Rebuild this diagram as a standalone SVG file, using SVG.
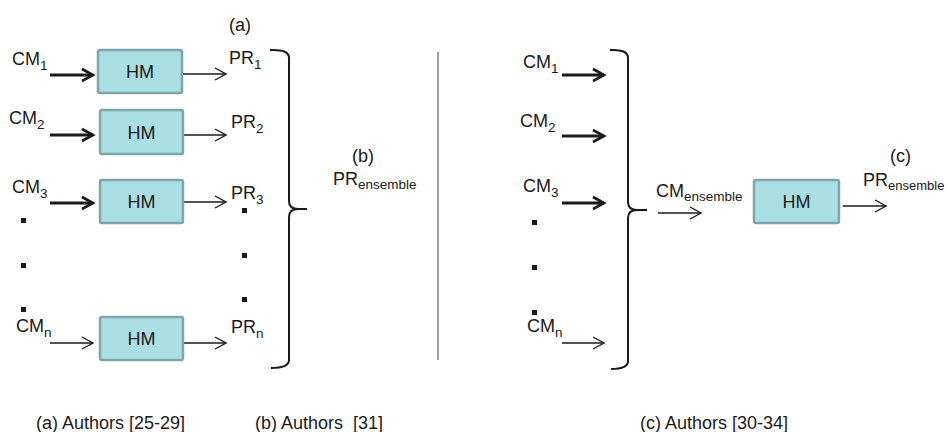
<svg xmlns="http://www.w3.org/2000/svg" width="947" height="432" viewBox="0 0 947 432">
<style>
text{font-family:"Liberation Sans",Arial,sans-serif;fill:#1a1a1a}
.lbl{font-size:18px}
.sub{font-size:13.5px}
.sub2{font-size:13px}
.cap{font-size:18px}
.box{fill:#a9dee2;stroke:#7fa5a7;stroke-width:2.5}
.thick{stroke:#1a1a1a;stroke-width:2.8;fill:none;marker-end:url(#ahk)}
.thin{stroke:#1a1a1a;stroke-width:1.3;fill:none;marker-end:url(#ahn)}
.brace{stroke:#1a1a1a;stroke-width:2;fill:none}
.dot{fill:#1a1a1a}
</style>
<defs>
<marker id="ahk" markerUnits="userSpaceOnUse" markerWidth="16" markerHeight="16" viewBox="0 0 16 16" refX="13" refY="8" orient="auto" overflow="visible">
<path d="M2,2 L13,8 L2,14" fill="none" stroke="#1a1a1a" stroke-width="2.6"/>
</marker>
<marker id="ahn" markerUnits="userSpaceOnUse" markerWidth="16" markerHeight="16" viewBox="0 0 16 16" refX="13" refY="8" orient="auto" overflow="visible">
<path d="M2,2 L13,8 L2,14" fill="none" stroke="#1a1a1a" stroke-width="1.4"/>
</marker>
</defs>
<rect width="947" height="432" fill="#ffffff"/>

<g id="connectors">
<line class="thick" x1="50" y1="75" x2="93" y2="75"/>
<line class="thick" x1="50" y1="135" x2="93" y2="135"/>
<line class="thick" x1="50" y1="203" x2="93" y2="203"/>
<line class="thin" x1="50" y1="343" x2="93" y2="343"/>
<line class="thin" x1="183" y1="74" x2="226" y2="74"/>
<line class="thin" x1="184" y1="135" x2="226" y2="135"/>
<line class="thin" x1="184" y1="202" x2="226" y2="202"/>
<line class="thin" x1="184" y1="343" x2="226" y2="343"/>
<line class="thick" x1="562" y1="75" x2="604" y2="75"/>
<line class="thick" x1="562" y1="136" x2="604" y2="136"/>
<line class="thick" x1="562" y1="203" x2="604" y2="203"/>
<line class="thin" x1="562" y1="343" x2="604" y2="343"/>
<line class="thin" x1="658" y1="213" x2="701" y2="213"/>
<line class="thin" x1="843" y1="206" x2="886" y2="206"/>
<path class="brace" d="M270,50 Q289,49 289,58 L289,201 Q289,209 298,209 L307,209 M298,209 Q289,209 289,217 L289,360 Q289,368 271,368"/>
<path class="brace" d="M610,50 Q628,49 628,58 L628,202 Q628,210 637,210 L647,210 M637,210 Q628,210 628,218 L628,361 Q628,369 611,369"/>
<line x1="438" y1="52" x2="438" y2="360" stroke="#808080" stroke-width="1.5"/>
</g>

<g id="hm1"><rect class="box" x="98" y="50" width="84" height="43" rx="2"/><text class="lbl" x="140" y="78" text-anchor="middle">HM</text></g>
<g id="hm2"><rect class="box" x="100" y="110" width="83" height="44" rx="2"/><text class="lbl" x="141.5" y="139" text-anchor="middle">HM</text></g>
<g id="hm3"><rect class="box" x="100" y="180" width="83" height="43" rx="2"/><text class="lbl" x="141.5" y="208" text-anchor="middle">HM</text></g>
<g id="hmn"><rect class="box" x="100" y="317" width="83" height="43" rx="2"/><text class="lbl" x="141.5" y="345" text-anchor="middle">HM</text></g>
<g id="hmc"><rect class="box" x="754" y="180" width="85" height="43" rx="2"/><text class="lbl" x="796.5" y="208" text-anchor="middle">HM</text></g>

<g id="labels-a">
<text class="lbl" x="229" y="31">(a)</text>
<text class="lbl" x="12" y="65">CM<tspan class="sub" dy="5">1</tspan></text>
<text class="lbl" x="9" y="124">CM<tspan class="sub" dy="5">2</tspan></text>
<text class="lbl" x="12" y="193">CM<tspan class="sub" dy="5">3</tspan></text>
<text class="lbl" x="16" y="332">CM<tspan class="sub" dy="5">n</tspan></text>
<text class="lbl" x="229" y="64">PR<tspan class="sub" dy="5">1</tspan></text>
<text class="lbl" x="231" y="128">PR<tspan class="sub" dy="5">2</tspan></text>
<text class="lbl" x="231" y="199">PR<tspan class="sub" dy="5">3</tspan></text>
<text class="lbl" x="231" y="333">PR<tspan class="sub" dy="5">n</tspan></text>
<rect class="dot" x="21" y="218" width="5" height="5"/>
<rect class="dot" x="21" y="263" width="5" height="5"/>
<rect class="dot" x="21" y="307" width="5" height="5"/>
<rect class="dot" x="242" y="208" width="5" height="5"/>
<rect class="dot" x="242" y="253" width="5" height="5"/>
<rect class="dot" x="242" y="297" width="5" height="5"/>
</g>

<g id="labels-b">
<text class="lbl" x="352" y="162">(b)</text>
<text class="lbl" x="333" y="185">PR<tspan class="sub" dy="4">ensemble</tspan></text>
</g>

<g id="labels-c">
<text class="lbl" x="523" y="68">CM<tspan class="sub" dy="5">1</tspan></text>
<text class="lbl" x="520" y="127">CM<tspan class="sub" dy="5">2</tspan></text>
<text class="lbl" x="523" y="192">CM<tspan class="sub" dy="5">3</tspan></text>
<text class="lbl" x="527" y="332">CM<tspan class="sub" dy="5">n</tspan></text>
<text class="lbl" x="656" y="197">CM<tspan class="sub" dy="4">ensemble</tspan></text>
<text class="lbl" x="890" y="162">(c)</text>
<text class="lbl" x="863" y="186">PR<tspan class="sub2" dy="4">ensemble</tspan></text>
<rect class="dot" x="532" y="220" width="5" height="5"/>
<rect class="dot" x="532" y="265" width="5" height="5"/>
<rect class="dot" x="532" y="310" width="5" height="5"/>
</g>

<g id="captions">
<text class="cap" x="36" y="429">(a) Authors [25-29]</text>
<text class="cap" x="255" y="429" xml:space="preserve">(b) Authors  [31]</text>
<text class="cap" x="640" y="429">(c) Authors [30-34]</text>
</g>
</svg>
